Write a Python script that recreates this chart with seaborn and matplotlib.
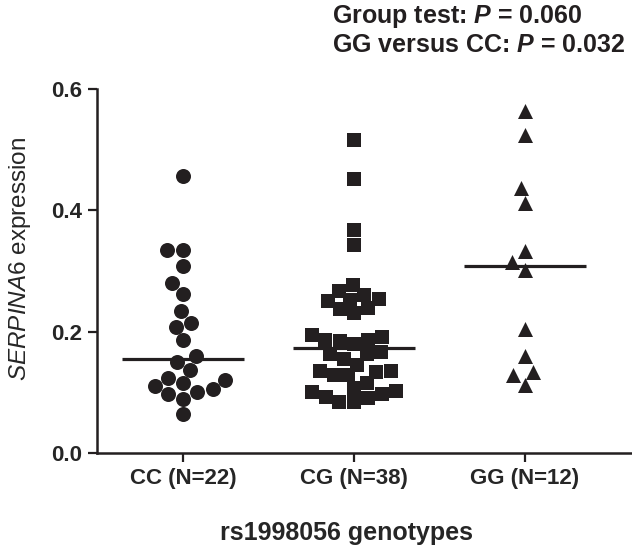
import numpy as np
import pandas as pd
import seaborn as sns
import matplotlib.pyplot as plt

# SERPINA6 expression per rs1998056 genotype
genotypes = ["CC (N=22)", "CG (N=38)", "GG (N=12)"]

cc_values = [0.456, 0.335, 0.335, 0.309, 0.280, 0.262, 0.234, 0.215, 0.208,
             0.186, 0.160, 0.150, 0.137, 0.124, 0.120, 0.115, 0.110, 0.105,
             0.100, 0.097, 0.089, 0.064]
cg_values = [0.516, 0.451, 0.368, 0.343, 0.277, 0.268, 0.261, 0.254, 0.253,
             0.251, 0.239, 0.237, 0.231, 0.195, 0.191, 0.187, 0.187, 0.185,
             0.180, 0.167, 0.164, 0.163, 0.155, 0.146, 0.135, 0.135, 0.134,
             0.128, 0.128, 0.116, 0.107, 0.102, 0.101, 0.097, 0.093, 0.091,
             0.085, 0.084]
gg_values = [0.563, 0.525, 0.437, 0.413, 0.333, 0.315, 0.302, 0.205, 0.160,
             0.133, 0.128, 0.112]

group_markers = ["o", "s", "^"]
group_sizes = [10.8, 10.0, 10.8]

df = pd.concat([
    pd.DataFrame({"genotype": genotypes[0], "expr": cc_values}),
    pd.DataFrame({"genotype": genotypes[1], "expr": cg_values}),
    pd.DataFrame({"genotype": genotypes[2], "expr": gg_values}),
], ignore_index=True)

sns.set_style("ticks")
plt.rcParams["font.family"] = ["Liberation Sans", "DejaVu Sans"]
plt.rcParams["mathtext.fontset"] = "custom"
plt.rcParams["mathtext.rm"] = "Liberation Sans"
plt.rcParams["mathtext.it"] = "Liberation Sans:italic"
plt.rcParams["mathtext.bf"] = "Liberation Sans:bold:italic"

ink = "#231f20"

fig = plt.figure(figsize=(6.32, 5.46), dpi=100)
ax = fig.add_axes([0.1535, 0.170, 0.8465, 0.667])

# one swarm per genotype so each gets its own marker
for g, m, s in zip(genotypes, group_markers, group_sizes):
    sns.swarmplot(data=df[df["genotype"] == g], x="genotype", y="expr",
                  order=genotypes, marker=m, size=s, color=ink,
                  linewidth=0, ax=ax)

# median bars
sns.boxplot(data=df, x="genotype", y="expr", order=genotypes, width=0.71,
            showbox=False, showcaps=False, showfliers=False,
            whiskerprops={"linewidth": 0},
            medianprops={"color": ink, "linewidth": 2.3},
            ax=ax)

ax.set_xlim(-0.503, 2.626)
ax.set_ylim(0, 0.6)
ax.set_yticks([0.0, 0.2, 0.4, 0.6])
ax.set_yticklabels(["0.0", "0.2", "0.4", "0.6"])

sns.despine(ax=ax)
for side in ["left", "bottom"]:
    ax.spines[side].set_linewidth(1.8)
    ax.spines[side].set_color(ink)
ax.tick_params(axis="both", width=1.6, length=6.5, color=ink, pad=4)
ax.tick_params(axis="y", labelsize=16)
ax.tick_params(axis="x", labelsize=16)
for lbl in ax.get_xticklabels() + ax.get_yticklabels():
    lbl.set_fontweight("bold")

ax.set_xlabel("rs1998056 genotypes", fontsize=18, fontweight="bold")
ax.xaxis.set_label_coords(0.467, -0.187)
ax.set_ylabel(r"$\mathit{SERPINA6}$ expression", fontsize=17.5)
ax.yaxis.set_label_coords(-0.12, 0.533)

fig.text(0.525, 0.969, r"Group test: $\mathbf{P}$ = 0.060",
         fontsize=18, fontweight="bold", ha="left", va="center", color=ink)
fig.text(0.525, 0.918, r"GG versus CC: $\mathbf{P}$ = 0.032",
         fontsize=18, fontweight="bold", ha="left", va="center", color=ink)

plt.savefig("out.png", dpi=100)
